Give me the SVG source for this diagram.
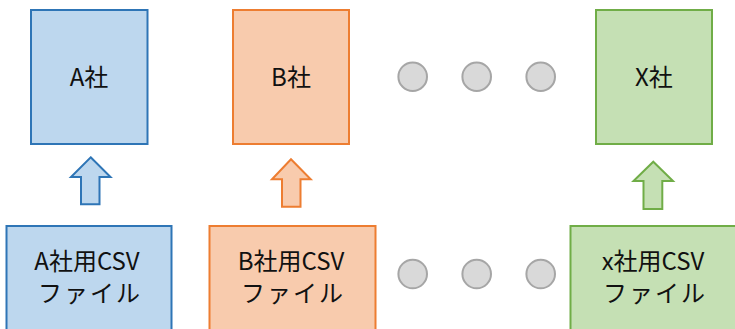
<svg xmlns="http://www.w3.org/2000/svg" width="735" height="329" viewBox="0 0 735 329">
<style>
text{font-family:"Noto Sans CJK JP","Liberation Sans",sans-serif;font-size:24px;fill:#111;text-anchor:middle}
.a{fill:#BDD7EE;stroke:#2E75B6;stroke-width:2}
.b{fill:#F8CBAD;stroke:#ED7D31;stroke-width:2}
.x{fill:#C5E0B4;stroke:#70AD47;stroke-width:2}
.dot{fill:#D9D9D9;stroke:#A6A6A6;stroke-width:2}
</style>
<rect width="735" height="329" fill="#fff"/>
<g id="nodeA"><rect class="a" x="31" y="10" width="116.5" height="134"/><text x="89" y="86">A社</text></g>
<g id="nodeB"><rect class="b" x="233" y="10" width="116" height="134"/><text x="291" y="86">B社</text></g>
<g id="nodeX"><rect class="x" x="596" y="10" width="116" height="134"/><text x="654" y="86">X社</text></g>
<g id="csvA"><rect class="a" x="6.5" y="226" width="165" height="110"/><text x="87" y="270">A社用CSV</text><text x="90" y="302" letter-spacing="2">ファイル</text></g>
<g id="csvB"><rect class="b" x="209.5" y="226" width="166" height="110"/><text x="291" y="270">B社用CSV</text><text x="293" y="302" letter-spacing="2">ファイル</text></g>
<g id="csvX"><rect class="x" x="570.5" y="226" width="166" height="110"/><text x="653" y="270">x社用CSV</text><text x="655" y="302" letter-spacing="2">ファイル</text></g>
<g id="dotsTop"><circle class="dot" cx="412.7" cy="76.7" r="14.3"/><circle class="dot" cx="476.7" cy="76.7" r="14.3"/><circle class="dot" cx="540.7" cy="76.7" r="14.3"/></g>
<g id="dotsBottom"><circle class="dot" cx="412.7" cy="274" r="14.3"/><circle class="dot" cx="476.7" cy="274" r="14.3"/><circle class="dot" cx="540.7" cy="274" r="14.3"/></g>
<g id="connectors">
<polygon class="a" points="90.7,157.3 110.5,177 99.5,177 99.5,204.3 81,204.3 81,177 71,177"/>
<polygon class="b" points="291,159.3 310.7,179.3 300.5,179.3 300.5,206.7 282,206.7 282,179.3 272,179.3"/>
<polygon class="x" points="653.3,161.7 673,181 662.3,181 662.3,209 643.5,209 643.5,181 633.5,181"/>
</g>
</svg>
